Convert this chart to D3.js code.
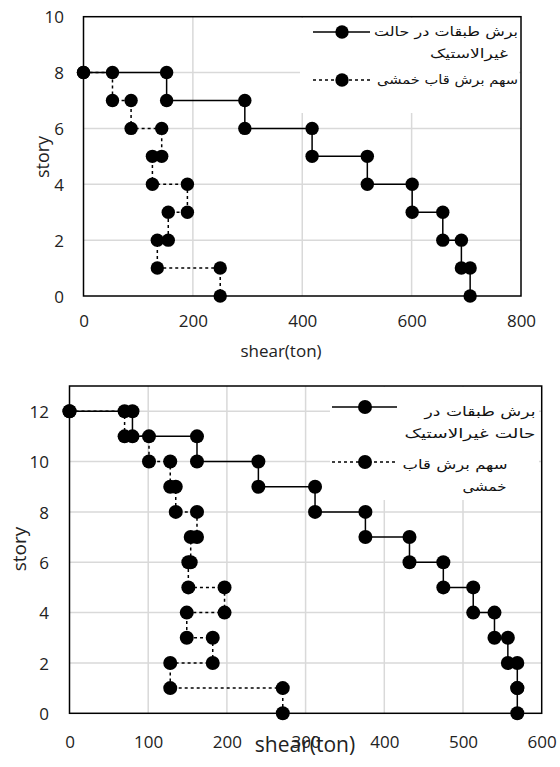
<!DOCTYPE html>
<html><head><meta charset="utf-8">
<script src="https://cdn.jsdelivr.net/npm/d3@7"></script>
<style>html,body{margin:0;padding:0;background:#fff;}svg{display:block;}</style>
</head><body>
<script>
// ---- Data ----
const legendTopLines1 = ["برش طبقات در حالت", "غیرالاستیک"];
const legendTopLines2 = ["سهم برش قاب خمشی"];
const legendBotLines1 = ["برش طبقات در", "حالت غیرالاستیک"];
const legendBotLines2 = ["سهم برش قاب", "خمشی"];

const topStories      = [8,8,7,7,6,6,5,5,4,4,3,3,2,2,1,1,0];
const topStoreyShear  = [0,152,152,295,295,418,418,519,519,601,601,657,657,691,691,707,707];
const topFrameShear   = [0,53,53,87,87,143,143,126,126,190,190,155,155,135,135,250,250];
const topXTicks = [0,200,400,600,800];
const topYTicks = [0,2,4,6,8,10];

const botStories      = [12,12,11,11,10,10,9,9,8,8,7,7,6,6,5,5,4,4,3,3,2,2,1,1,0];
const botStoreyShear  = [0,80,80,162,162,240,240,312,312,376,376,432,432,475,475,513,513,540,540,557,557,569,569,569,569];
const botFrameShear   = [0,70,70,101,101,128,128,135,135,162,162,154,154,151,151,197,197,149,149,182,182,128,128,271,271];
const botXTicks = [0,100,200,300,400,500,600];
const botYTicks = [0,2,4,6,8,10,12];

const xTitle = "shear(ton)";
const yTitle = "story";

const W = 560, H = 767;
const svg = d3.select("body").append("svg").attr("width", W).attr("height", H);
const FONT = "'Open Sans', sans-serif";
const AFONT = "'DejaVu Sans', sans-serif";

function chart(cfg) {
  const x = d3.scaleLinear().domain(cfg.xDomain).range([cfg.left, cfg.right]);
  const y = d3.scaleLinear().domain(cfg.yDomain).range([cfg.bottom, cfg.top]);
  const g = svg.append("g");

  // gridlines
  g.append("g").selectAll("line.v").data(cfg.xTicks.slice(1, -1)).join("line")
    .attr("x1", d => x(d)).attr("x2", d => x(d)).attr("y1", cfg.top).attr("y2", cfg.bottom)
    .attr("stroke", "#d9d9d9").attr("stroke-width", 1.5);
  g.append("g").selectAll("line.h").data(cfg.yTicks.filter(d => d > cfg.yDomain[0] && d < cfg.yDomain[1])).join("line")
    .attr("x1", cfg.left).attr("x2", cfg.right).attr("y1", d => y(d)).attr("y2", d => y(d))
    .attr("stroke", "#d9d9d9").attr("stroke-width", 1.5);

  // legend background
  g.append("rect").attr("x", cfg.legend.bx).attr("y", cfg.legend.by)
    .attr("width", cfg.legend.bw).attr("height", cfg.legend.bh).attr("fill", "#fff");

  // axes (ticks labels)
  const xa = d3.axisBottom(x).tickValues(cfg.xTicks).tickSize(0).tickPadding(0);
  const xg = g.append("g").attr("transform", `translate(0,${cfg.xLabelY})`).call(xa);
  xg.select(".domain").remove();
  xg.selectAll("text").attr("font-family", FONT).attr("font-size", cfg.tickFont).attr("fill", "#222").attr("dy", 0);
  const ya = d3.axisLeft(y).tickValues(cfg.yTicks).tickSize(0).tickPadding(0);
  const yg = g.append("g").attr("transform", `translate(${cfg.yLabelX},0)`).call(ya);
  yg.select(".domain").remove();
  yg.selectAll("text").attr("font-family", FONT).attr("font-size", cfg.tickFont).attr("fill", "#222").attr("dy", "0.36em");

  // series
  const line = d3.line().x(d => x(d[0])).y(d => y(d[1]));
  cfg.series.forEach(s => {
    const pts = s.vals.map((v, i) => [v, cfg.stories[i]]);
    g.append("path").datum(pts).attr("d", line).attr("fill", "none")
      .attr("stroke", "#000").attr("stroke-width", 1.5)
      .attr("stroke-dasharray", s.dash ? "3,3" : null);
    g.append("g").selectAll("circle").data(pts).join("circle")
      .attr("cx", d => x(d[0])).attr("cy", d => y(d[1])).attr("r", cfg.r).attr("fill", "#000");
  });

  // border
  g.append("rect").attr("x", cfg.left).attr("y", cfg.top)
    .attr("width", cfg.right - cfg.left).attr("height", cfg.bottom - cfg.top)
    .attr("fill", "none").attr("stroke", "#000").attr("stroke-width", 1.5);

  // titles
  g.append("text").attr("x", cfg.xTitleX).attr("y", cfg.xTitleY).attr("text-anchor", "middle")
    .attr("font-family", FONT).attr("font-size", cfg.xTitleFont).attr("fill", "#222").text(xTitle);
  g.append("text").attr("transform", `translate(${cfg.yTitleX},${cfg.yTitleY}) rotate(-90)`)
    .attr("text-anchor", "middle").attr("font-family", FONT).attr("font-size", cfg.yTitleFont)
    .attr("fill", "#222").text(yTitle);

  // legend
  const L = cfg.legend;
  L.items.forEach((it, k) => {
    const ly = it.y;
    g.append("line").attr("x1", L.x1).attr("x2", L.x2).attr("y1", ly).attr("y2", ly)
      .attr("stroke", "#000").attr("stroke-width", 1.5).attr("stroke-dasharray", k === 1 ? "3,3" : null);
    g.append("circle").attr("cx", L.cx).attr("cy", ly).attr("r", cfg.r).attr("fill", "#000");
    it.lines.forEach((t, j) => {
      g.append("text").attr("x", it.tx[j]).attr("y", ly + it.dy + j * L.lh).attr("dy", "0.35em")
        .attr("text-anchor", "end").attr("font-family", AFONT)
        .attr("textLength", it.tw[j]).attr("lengthAdjust", "spacingAndGlyphs")
        .attr("font-size", L.font).attr("fill", "#111").text(t);
    });
  });
}

chart({
  left: 83.5, right: 521, top: 16.7, bottom: 296,
  xDomain: [0, 800], yDomain: [0, 10], xTicks: topXTicks, yTicks: topYTicks,
  xLabelY: 327, yLabelX: 64, tickFont: 17, r: 6.7,
  stories: topStories,
  series: [{vals: topStoreyShear, dash: false}, {vals: topFrameShear, dash: true}],
  xTitleX: 281, xTitleY: 357, xTitleFont: 17,
  yTitleX: 49, yTitleY: 157, yTitleFont: 18,
  legend: {bx: 300, by: 18, bw: 219, bh: 95, x1: 313, x2: 370, cx: 342, font: 12.5, lh: 22,
    items: [{y: 32, dy: 0, lines: legendTopLines1, tx: [518, 508], tw: [144, 78]},
            {y: 80, dy: 0, lines: legendTopLines2, tx: [518], tw: [141]}]}
});

chart({
  left: 69.5, right: 541.7, top: 386, bottom: 713.3,
  xDomain: [0, 600], yDomain: [0, 13], xTicks: botXTicks, yTicks: botYTicks,
  xLabelY: 748, yLabelX: 49, tickFont: 17, r: 7,
  stories: botStories,
  series: [{vals: botStoreyShear, dash: false}, {vals: botFrameShear, dash: true}],
  xTitleX: 305, xTitleY: 752, xTitleFont: 21,
  yTitleX: 26, yTitleY: 549, yTitleFont: 19,
  legend: {bx: 330, by: 387, bw: 209, bh: 113, x1: 332, x2: 397, cx: 365, font: 13, lh: 22,
    items: [{y: 407, dy: 4, lines: legendBotLines1, tx: [535.5, 535.5], tw: [111, 131]},
            {y: 462, dy: 2, lines: legendBotLines2, tx: [507.5, 506.5], tw: [105, 44]}]}
});
</script>
</body></html>
